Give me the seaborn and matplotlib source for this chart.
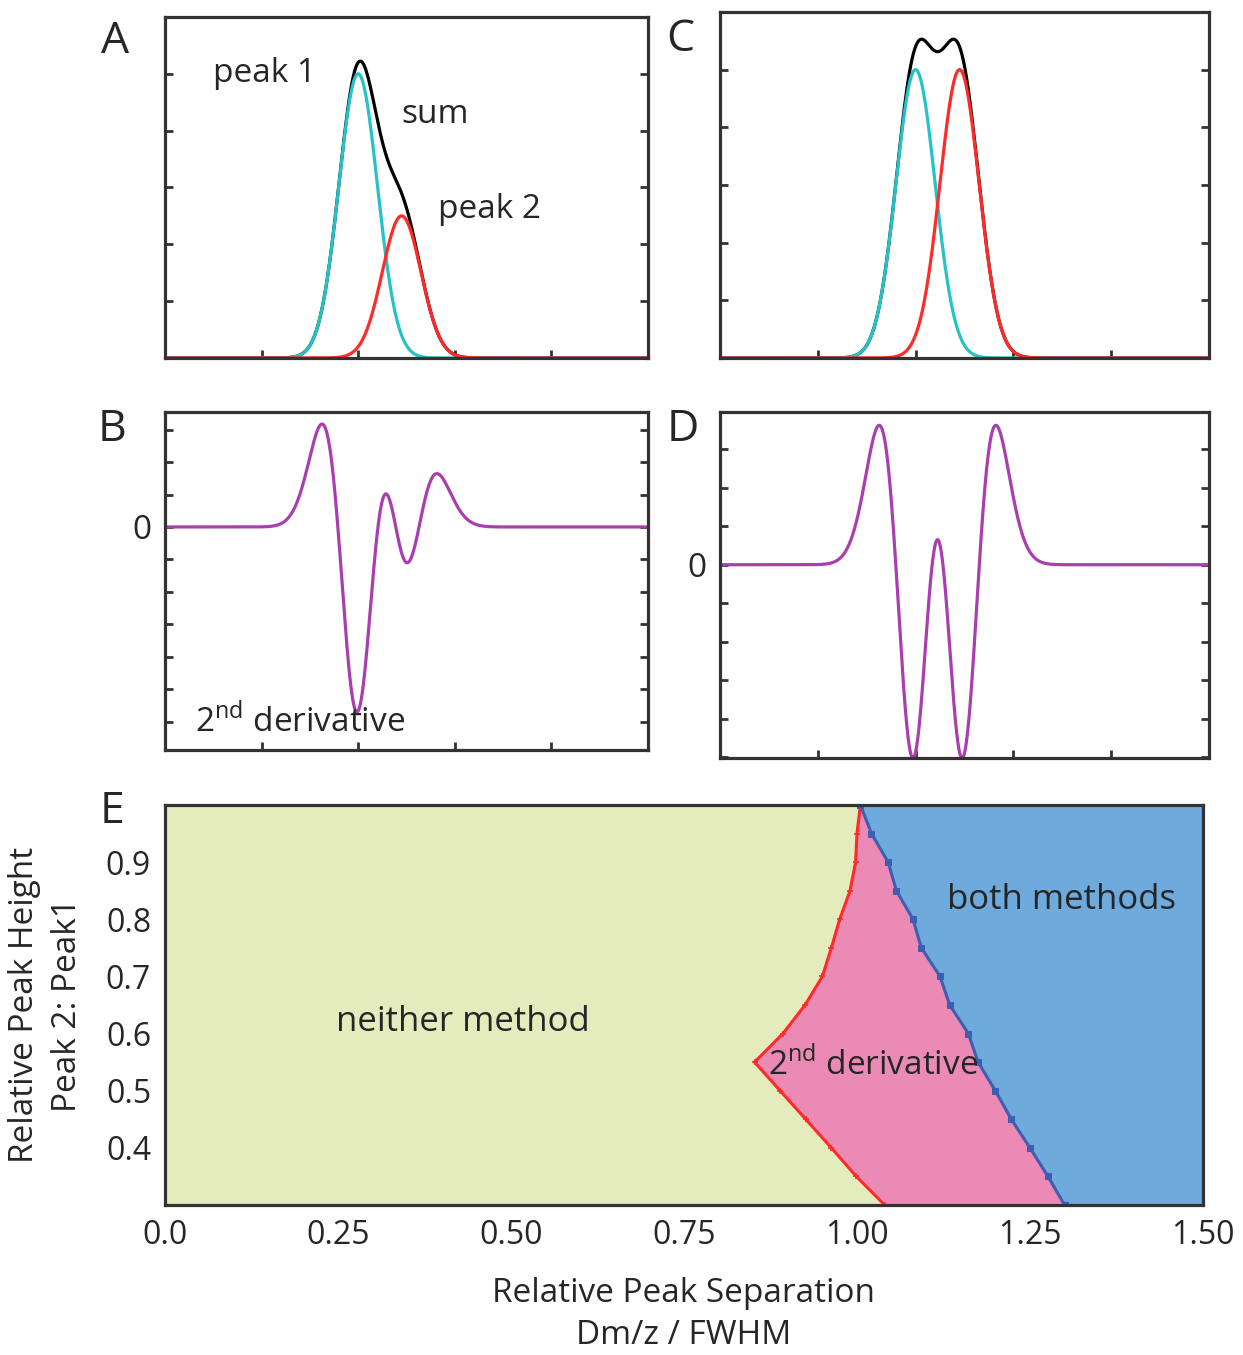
import numpy as np
import pandas as pd
import matplotlib
matplotlib.use("Agg")
import matplotlib.pyplot as plt
import seaborn as sns

peak_pos = [0.40, 0.49]
heights_A = [1.0, 0.5]
heights_C = [1.0, 1.0]
sigma_peaks = 0.040
sigma_deriv = 0.0435

# panel E: boundaries of the resolved regions
e_height = [1.00, 0.95, 0.90, 0.85, 0.80, 0.75, 0.70, 0.65, 0.60, 0.55, 0.50, 0.45, 0.40, 0.35, 0.30]
red_sep = [1.005, 1.00, 0.998, 0.99, 0.975, 0.963, 0.95, 0.925, 0.893, 0.852, 0.889, 0.926, 0.963, 0.999, 1.04]
blue_sep = [1.005, 1.021, 1.045, 1.057, 1.081, 1.093, 1.12, 1.134, 1.161, 1.175, 1.20, 1.223, 1.25, 1.276, 1.30]
e_xticks = [0.0, 0.25, 0.50, 0.75, 1.00, 1.25, 1.50]
e_xlabels = ['0.0', '0.25', '0.50', '0.75', '1.00', '1.25', '1.50']
e_yticks = [0.4, 0.5, 0.6, 0.7, 0.8, 0.9]

sns.set_theme(style="white")
plt.rcParams['font.family'] = ['Open Sans', 'DejaVu Sans']
plt.rcParams['mathtext.fontset'] = 'custom'
plt.rcParams['mathtext.rm'] = 'Open Sans'
plt.rcParams['axes.edgecolor'] = '#333333'
plt.rcParams['axes.linewidth'] = 2.3

FS = 24
CYAN = '#25c3c6'
RED = '#ff2a2a'
PURPLE = '#a93fae'

x = np.linspace(0, 1, 1201)


def gauss(h, mu, s):
    return h * np.exp(-(x - mu) ** 2 / (2 * s ** 2))


def gauss_d2(h, mu, s):
    u = (x - mu) / s
    return h * (u ** 2 - 1) / s ** 2 * np.exp(-u ** 2 / 2)


def style_small(ax, ystep, zero_label=False):
    ax.set_xlim(0, 1)
    ax.set_xticks([0.2, 0.4, 0.6, 0.8])
    lo, hi = ax.get_ylim()
    ticks = np.arange(np.ceil(lo / ystep), np.floor(hi / ystep) + 1) * ystep
    ax.set_yticks(ticks)
    ax.tick_params(direction='in', length=6, width=2, color='#333333',
                   left=True, right=True, bottom=True, top=False,
                   labelbottom=False, labelleft=zero_label, labelsize=FS, pad=10)
    if zero_label:
        ax.set_yticklabels(['0' if abs(t) < 1e-9 else '' for t in ticks])
    ax.set_xlabel('')
    ax.set_ylabel('')
    for s in ax.spines.values():
        s.set_visible(True)


fig = plt.figure(figsize=(12.43, 13.55), dpi=100)
axA = fig.add_axes([0.1327, 0.7358, 0.3886, 0.2517])
axC = fig.add_axes([0.5792, 0.7358, 0.3934, 0.2554])
axB = fig.add_axes([0.1327, 0.4465, 0.3886, 0.2494])
axD = fig.add_axes([0.5792, 0.4406, 0.3934, 0.2554])
axE = fig.add_axes([0.1327, 0.1107, 0.8351, 0.2952])

lw = 2.3
# panels A and C: two peaks and their sum
for ax, hts in [(axA, heights_A), (axC, heights_C)]:
    p1 = gauss(hts[0], peak_pos[0], sigma_peaks)
    p2 = gauss(hts[1], peak_pos[1], sigma_peaks)
    df = pd.DataFrame({'x': x, 'p1': p1, 'p2': p2, 'sum': p1 + p2})
    sns.lineplot(data=df, x='x', y='sum', color='black', lw=lw, ax=ax)
    sns.lineplot(data=df, x='x', y='p1', color=CYAN, lw=lw, ax=ax)
    sns.lineplot(data=df, x='x', y='p2', color=RED, lw=lw, ax=ax)
    ax.set_ylim(0, 1.2)
    style_small(ax, 0.2)

axA.text(0.207, 1.0, 'peak 1', fontsize=FS, ha='center', va='center')
axA.text(0.559, 0.855, 'sum', fontsize=FS, ha='center', va='center')
axA.text(0.671, 0.521, 'peak 2', fontsize=FS, ha='center', va='center')

# panels B and D: second derivative of the sum
for ax, hts, top, bot, nstep in [(axB, heights_A, 1.116, -2.166, 0.315),
                                 (axD, heights_C, 1.096, -1.386, 0.276)]:
    d2 = gauss_d2(hts[0], peak_pos[0], sigma_deriv) + gauss_d2(hts[1], peak_pos[1], sigma_deriv)
    df = pd.DataFrame({'x': x, 'd2': d2})
    sns.lineplot(data=df, x='x', y='d2', color=PURPLE, lw=lw, ax=ax)
    m = d2[x < peak_pos[0]].max()
    ax.set_ylim(bot * m, top * m)
    style_small(ax, nstep * m, zero_label=True)

axB.text(0.062, 0.083, r'2$^{\mathrm{nd}}$ derivative', transform=axB.transAxes,
         fontsize=FS, ha='left', va='center')

# panel E: resolution map
yellow, pink, blue = '#e4ecbe', '#ea8ab5', '#6eaadb'
axE.fill_betweenx(e_height, 0, red_sep, color=yellow, lw=0)
axE.fill_betweenx(e_height, red_sep, blue_sep, color=pink, lw=0)
axE.fill_betweenx(e_height, blue_sep, 1.5, color=blue, lw=0)
edf = pd.DataFrame({'h': e_height, 'red': red_sep, 'blue': blue_sep})
sns.lineplot(data=edf, x='red', y='h', orient='y', estimator=None, color=RED, lw=2.2,
             marker='+', markersize=5, mew=1.2, mec=RED, ax=axE)
sns.lineplot(data=edf, x='blue', y='h', orient='y', estimator=None, color='#3c5fb2', lw=2.2,
             marker='s', markersize=4, mec='#3c5fb2', ax=axE)
axE.set_xlim(0, 1.5)
axE.set_ylim(0.3, 1.0)
axE.set_xticks(e_xticks)
axE.set_xticklabels(e_xlabels)
axE.set_yticks(e_yticks)
axE.tick_params(direction='in', length=7, width=2, color='#222222',
                left=True, bottom=True, top=True, right=False,
                labelsize=FS - 1, pad=10)
for s in axE.spines.values():
    s.set_visible(True)
axE.set_xlabel('Relative Peak Separation\nDm/z / FWHM', fontsize=FS, linespacing=1.35)
axE.xaxis.set_label_coords(0.5, -0.18)
axE.set_ylabel('Relative Peak Height\nPeak 2: Peak1', fontsize=FS, linespacing=1.4)
axE.yaxis.set_label_coords(-0.078, 0.5)

axE.text(0.43, 0.62, 'neither method', fontsize=FS + 1, ha='center', va='center')
axE.text(0.872, 0.545, r'2$^{\mathrm{nd}}$ derivative', fontsize=FS, ha='left', va='center')
axE.text(1.296, 0.834, 'both methods', fontsize=FS + 1, ha='center', va='center')

# panel letters
for lab, px, py in [('A', 115, 42), ('C', 680, 40), ('B', 112, 430), ('D', 683, 430), ('E', 112, 812)]:
    fig.text(px / 1243, 1 - py / 1355, lab, fontsize=32, ha='center', va='center')

fig.savefig('out.png', dpi=100)
